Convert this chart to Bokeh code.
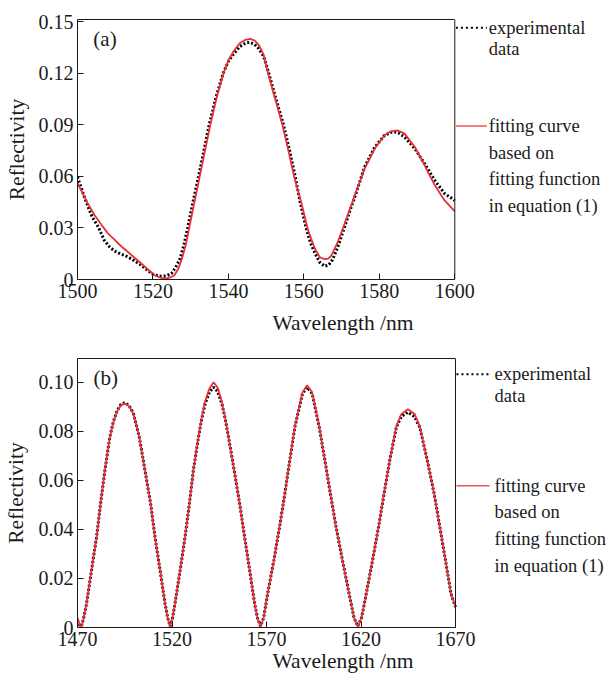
from bokeh.plotting import figure
from bokeh.layouts import column
from bokeh.models import Range1d, FixedTicker, Label, Span, LinearAxis
from bokeh.embed import file_html
from bokeh.resources import INLINE

# ---------------- data: panel (a) ----------------
wl_a_exp = [1500.0, 1501.5, 1502.8, 1504.0, 1505.5, 1507.1, 1508.5, 1509.8, 1511.5, 1513.4,
            1515.0, 1516.9, 1518.5, 1520.0, 1521.5, 1522.7, 1523.8, 1524.9, 1526.0, 1527.2,
            1528.2, 1529.2, 1530.6, 1532.1, 1533.5, 1534.9, 1536.7, 1538.6, 1540.0, 1541.3,
            1543.0, 1544.5, 1545.6, 1546.8, 1548.0, 1549.3, 1550.7, 1552.6, 1554.6, 1556.2,
            1557.7, 1559.0, 1560.6, 1561.8, 1562.9, 1564.2, 1565.5, 1566.6, 1567.6, 1569.0,
            1570.8, 1572.2, 1573.5, 1576.1, 1578.8, 1581.4, 1583.0, 1584.1, 1585.3, 1586.7,
            1589.4, 1592.0, 1594.7, 1597.3, 1598.7, 1600.0]
r_a_exp = [0.0597, 0.0500, 0.0422, 0.0360, 0.0306, 0.0228, 0.0190, 0.0166, 0.0148, 0.0131,
           0.0110, 0.0083, 0.0055, 0.0031, 0.0020, 0.0019, 0.0024, 0.0035, 0.0070, 0.0122,
           0.0200, 0.0300, 0.0450, 0.0600, 0.0750, 0.0900, 0.1060, 0.1200, 0.1270, 0.1310,
           0.1355, 0.1375, 0.1380, 0.1370, 0.1345, 0.1300, 0.1200, 0.1050, 0.0900, 0.0750,
           0.0600, 0.0450, 0.0300, 0.0210, 0.0155, 0.0100, 0.0077, 0.0085, 0.0115, 0.0190,
           0.0306, 0.0400, 0.0480, 0.0655, 0.0771, 0.0839, 0.0855, 0.0858, 0.0850, 0.0829,
           0.0762, 0.0674, 0.0577, 0.0500, 0.0480, 0.0460]

wl_a_fit = [1500.0, 1502.8, 1504.5, 1506.3, 1508.0, 1509.8, 1511.5, 1513.4, 1515.2, 1516.9,
            1518.7, 1520.4, 1522.0, 1523.5, 1524.6, 1525.7, 1526.8, 1527.8, 1528.8, 1529.6,
            1531.0, 1532.4, 1533.8, 1535.2, 1536.9, 1538.7, 1540.1, 1541.4, 1543.0, 1544.5,
            1545.8, 1547.0, 1548.2, 1549.3, 1550.5, 1552.4, 1554.3, 1555.9, 1557.4, 1559.3,
            1561.1, 1562.9, 1564.2, 1565.5, 1566.5, 1567.3, 1569.0, 1570.8, 1573.5, 1576.1,
            1578.8, 1581.4, 1583.0, 1584.8, 1586.7, 1589.4, 1592.0, 1594.7, 1597.3, 1600.0]
r_a_fit = [0.0560, 0.0440, 0.0375, 0.0320, 0.0270, 0.0232, 0.0195, 0.0160, 0.0125, 0.0093,
           0.0058, 0.0025, 0.0010, 0.0006, 0.0012, 0.0025, 0.0065, 0.0130, 0.0210, 0.0300,
           0.0450, 0.0600, 0.0750, 0.0900, 0.1060, 0.1200, 0.1280, 0.1330, 0.1375, 0.1395,
           0.1400, 0.1390, 0.1360, 0.1310, 0.1200, 0.1050, 0.0900, 0.0750, 0.0600, 0.0450,
           0.0287, 0.0180, 0.0130, 0.0118, 0.0122, 0.0141, 0.0219, 0.0325, 0.0490, 0.0645,
           0.0762, 0.0839, 0.0862, 0.0868, 0.0849, 0.0771, 0.0664, 0.0548, 0.0460, 0.0397]

# ---------------- data: panel (b) ----------------
wl_b = [1470.0, 1471.0, 1472.1, 1473.3, 1474.8, 1477.4, 1480.1, 1482.2, 1484.5, 1487.1,
        1489.0, 1491.0, 1493.0, 1495.1, 1497.3, 1499.5, 1501.0, 1502.7, 1505.7, 1508.7,
        1511.0, 1513.7, 1516.3, 1517.7, 1519.0, 1520.3, 1521.6, 1524.3, 1526.9, 1529.2,
        1531.3, 1534.0, 1535.7, 1537.5, 1539.8, 1542.0, 1544.2, 1546.4, 1548.2, 1549.9,
        1552.9, 1555.8, 1558.4, 1561.1, 1563.7, 1565.2, 1566.8, 1568.5, 1570.6, 1573.9,
        1576.9, 1579.7, 1582.3, 1585.0, 1589.0, 1591.5, 1594.2, 1597.9, 1600.9, 1603.8,
        1606.8, 1610.2, 1613.7, 1616.3, 1618.3, 1620.3, 1622.8, 1626.1, 1629.3, 1632.2,
        1635.2, 1638.7, 1641.3, 1644.8, 1648.3, 1651.1, 1655.1, 1658.7, 1661.7, 1664.7,
        1667.6, 1670.0]
r_b_exp = [0.0030, 0.0010, 0.0005, 0.0040, 0.0098, 0.0233, 0.0369, 0.0505, 0.0641, 0.0776,
           0.0840, 0.0885, 0.0910, 0.0917, 0.0905, 0.0875, 0.0830, 0.0776, 0.0641, 0.0505,
           0.0369, 0.0233, 0.0098, 0.0040, 0.0005, 0.0040, 0.0098, 0.0233, 0.0369, 0.0505,
           0.0641, 0.0776, 0.0850, 0.0912, 0.0960, 0.0980, 0.0962, 0.0912, 0.0850, 0.0776,
           0.0641, 0.0505, 0.0369, 0.0233, 0.0098, 0.0040, 0.0005, 0.0040, 0.0138, 0.0274,
           0.0410, 0.0546, 0.0681, 0.0817, 0.0953, 0.0980, 0.0953, 0.0817, 0.0681, 0.0546,
           0.0410, 0.0274, 0.0138, 0.0040, 0.0005, 0.0040, 0.0138, 0.0274, 0.0410, 0.0546,
           0.0681, 0.0817, 0.0860, 0.0878, 0.0860, 0.0817, 0.0681, 0.0546, 0.0410, 0.0274,
           0.0138, 0.0084]
r_b_fit = [0.0040, 0.0012, 0.0002, 0.0040, 0.0098, 0.0233, 0.0369, 0.0505, 0.0641, 0.0776,
           0.0838, 0.0882, 0.0906, 0.0913, 0.0902, 0.0873, 0.0830, 0.0776, 0.0641, 0.0505,
           0.0369, 0.0233, 0.0098, 0.0040, 0.0002, 0.0040, 0.0098, 0.0233, 0.0369, 0.0505,
           0.0641, 0.0776, 0.0855, 0.0922, 0.0975, 0.1000, 0.0978, 0.0920, 0.0852, 0.0776,
           0.0641, 0.0505, 0.0369, 0.0233, 0.0098, 0.0040, 0.0002, 0.0040, 0.0138, 0.0274,
           0.0410, 0.0546, 0.0681, 0.0820, 0.0958, 0.0988, 0.0958, 0.0820, 0.0681, 0.0546,
           0.0410, 0.0274, 0.0138, 0.0040, 0.0002, 0.0040, 0.0138, 0.0274, 0.0410, 0.0546,
           0.0681, 0.0820, 0.0870, 0.0890, 0.0872, 0.0820, 0.0681, 0.0546, 0.0410, 0.0274,
           0.0138, 0.0084]

# ---------------- ticks and texts ----------------
xlim_a = (1500, 1600)
ylim_a = (0, 0.1513)
xlim_b = (1470, 1670)
ylim_b = (0, 0.1097)
xticks_a = [1500, 1520, 1540, 1560, 1580, 1600]
yticks_a = [0, 0.03, 0.06, 0.09, 0.12, 0.15]
xticks_b = [1470, 1520, 1570, 1620, 1670]
yticks_b = [0, 0.02, 0.04, 0.06, 0.08, 0.10]
x_label = "Wavelength /nm"
y_label = "Reflectivity"
legend_exp = ["experimental", "data"]
legend_fit = ["fitting curve", "based on", "fitting function", "in equation (1)"]

FONT = "Liberation Serif"
RED = "#e8303a"
INK = "#1a1a1a"
W = 608
PLOT_W = 378  # pixel width of the boxed data area


def make_panel(xlim, ylim, xticks, yticks, height, left, top, bottom, xlab_standoff, ylab_standoff,
               tag, tag_pos):
    frame_w = W - left
    x_end = xlim[0] + (xlim[1] - xlim[0]) * frame_w / PLOT_W
    p = figure(width=W, height=height, output_backend="svg", toolbar_location=None,
               x_range=Range1d(xlim[0], x_end), y_range=Range1d(*ylim),
               min_border_left=left, min_border_right=0, min_border_top=top,
               min_border_bottom=bottom)
    p.outline_line_color = None
    p.xgrid.grid_line_color = None
    p.ygrid.grid_line_color = None
    p.xaxis.bounds = xlim
    p.xaxis.ticker = FixedTicker(ticks=xticks)
    p.yaxis.ticker = FixedTicker(ticks=yticks)
    p.yaxis.major_label_overrides = {v: ("0" if v == 0 else f"{v:.2f}") for v in yticks}
    for ax in (p.xaxis, p.yaxis):
        ax.axis_line_color = INK
        ax.major_tick_line_color = INK
        ax.major_tick_in = 6
        ax.major_tick_out = 0
        ax.minor_tick_line_color = None
        ax.major_label_text_font = FONT
        ax.major_label_text_font_size = "20px"
        ax.major_label_text_color = INK
        ax.axis_label_text_font = FONT
        ax.axis_label_text_font_size = "21.5px"
        ax.axis_label_text_font_style = "normal"
        ax.axis_label_text_color = INK
        ax.major_label_standoff = 4
    p.xaxis.axis_label = x_label
    p.yaxis.axis_label = y_label
    p.xaxis.axis_label_standoff = xlab_standoff
    p.yaxis.axis_label_standoff = ylab_standoff
    # top edge and right edge of the box
    top_ax = LinearAxis(bounds=xlim, axis_line_color=INK, major_tick_line_color=None,
                        minor_tick_line_color=None, major_label_text_font_size="0px",
                        major_label_standoff=0, ticker=FixedTicker(ticks=[]))
    p.add_layout(top_ax, "above")
    p.add_layout(Span(location=xlim[1], dimension="height", line_color=INK, line_width=1))
    p.add_layout(Label(x=tag_pos[0], y=tag_pos[1], text=tag, text_font=FONT,
                       text_font_size="21px", text_color=INK, text_baseline="middle",
                       text_align="left"))
    return p


def add_legend(p, x_line0, x_line1, x_text, y_exp, y_fit, dy_exp, dy_fit):
    p.line([x_line0, x_line1], [y_exp, y_exp], line_color="black", line_width=2,
           line_dash="2 3")
    p.line([x_line0, x_line1], [y_fit, y_fit], line_color="#ee5555", line_width=1.6)
    for i, t in enumerate(legend_exp):
        p.add_layout(Label(x=x_text, y=y_exp - i * dy_exp, text=t, text_font=FONT,
                           text_font_size="18.5px", text_color=INK,
                           text_baseline="middle", text_align="left"))
    for i, t in enumerate(legend_fit):
        p.add_layout(Label(x=x_text, y=y_fit - i * dy_fit, text=t, text_font=FONT,
                           text_font_size="18.5px", text_color=INK,
                           text_baseline="middle", text_align="left"))


# ---------------- panel (a) ----------------
pa = make_panel(xlim_a, ylim_a, xticks_a, yticks_a, height=340, left=76, top=19, bottom=61,
                xlab_standoff=10, ylab_standoff=7, tag="(a)", tag_pos=(1504.2, 0.1397))
pa.line(wl_a_exp, r_a_exp, line_color="black", line_width=3, line_dash="2 2")
pa.line(wl_a_fit, r_a_fit, line_color=RED, line_width=1.8)
add_legend(pa, 1600.3, 1608.5, 1609.0, 0.1465, 0.0893, 0.0126, 0.0155)

# ---------------- panel (b) ----------------
pb = make_panel(xlim_b, ylim_b, xticks_b, yticks_b, height=338, left=77, top=18, bottom=51,
                xlab_standoff=0, ylab_standoff=8, tag="(b)", tag_pos=(1478.5, 0.1018))
pb.line(wl_b, r_b_exp, line_color="black", line_width=3, line_dash="2 2")
pb.line(wl_b, r_b_fit, line_color=RED, line_width=1.8)
add_legend(pb, 1670.5, 1688.0, 1690.7, 0.1033, 0.0578, 0.0090, 0.0109)

layout = column(pa, pb, spacing=0)
open("out.html", "w").write(file_html(layout, INLINE))
